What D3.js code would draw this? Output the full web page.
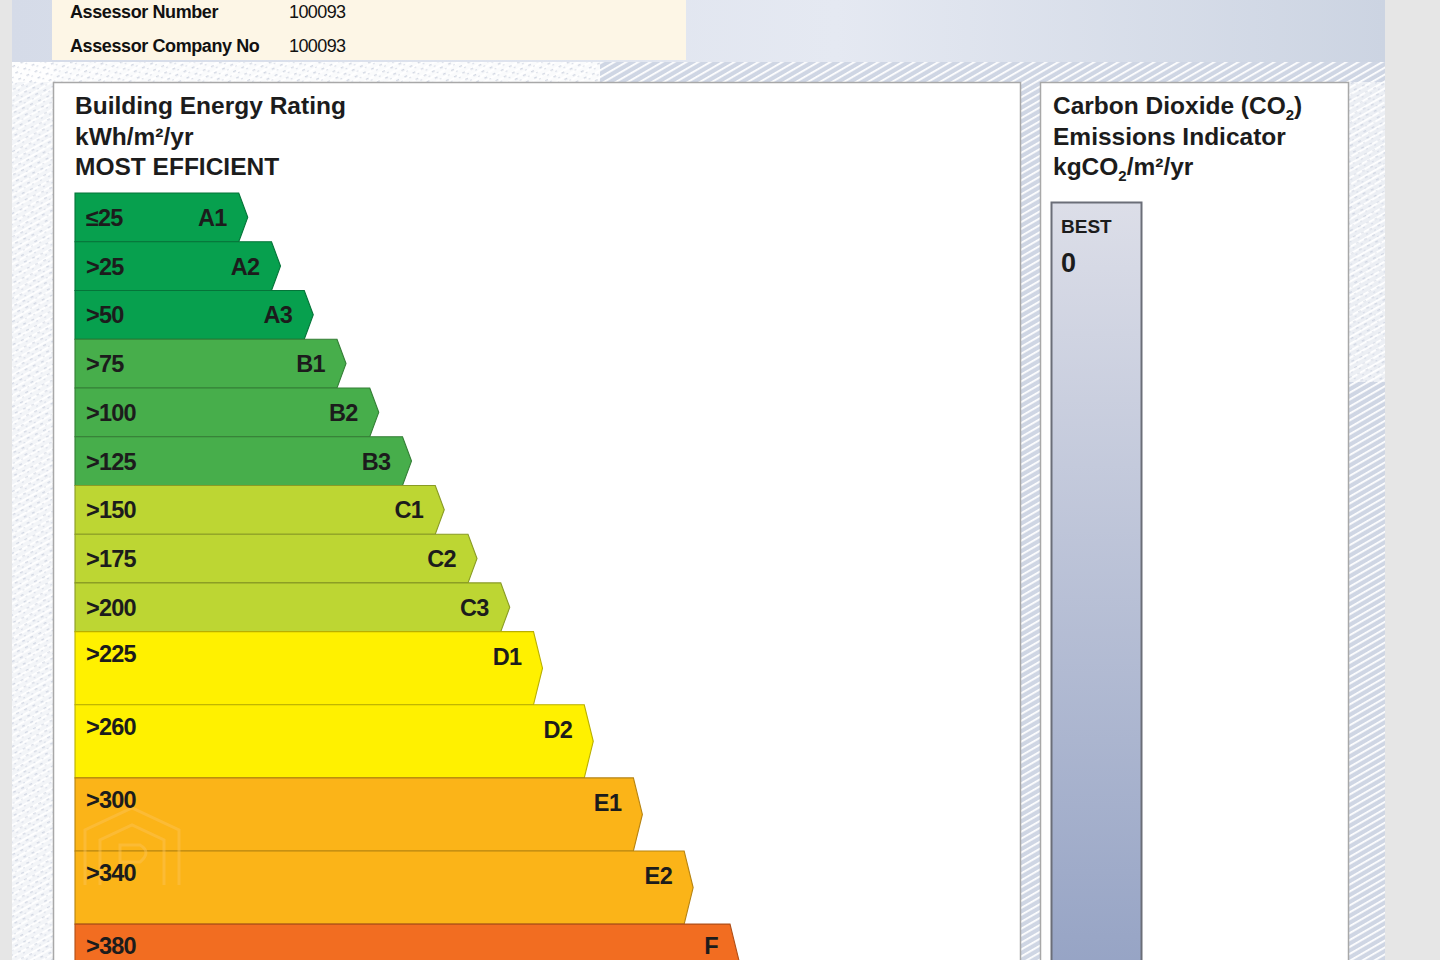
<!DOCTYPE html>
<html>
<head>
<meta charset="utf-8">
<script src="https://cdn.jsdelivr.net/npm/d3@7/dist/d3.min.js"></script>
<style>
  html, body { margin: 0; padding: 0; background: #e6e6e6; }
  svg { display: block; }
  text { font-family: "Liberation Sans", Arial, Helvetica, sans-serif; }
</style>
</head>
<body>
<svg id="chart" width="1440" height="960"></svg>
<script>
// ---------------- DATA ----------------
const bandNames = ["A1","A2","A3","B1","B2","B3","C1","C2","C3","D1","D2","E1","E2","F"];
const bandThresholds = ["\u226425",">25",">50",">75",">100",">125",">150",">175",">200",">225",">260",">300",">340",">380"];
const bandLengths = [5,6,7,8,9,10,11,12,13,14,15.55,17.05,18.6,20];
const bandSpans = [2,2,2,2,2,2,2,2,2,3,3,3,3,3];
const bandColors = ["#07a04e","#07a04e","#07a04e","#47ae4b","#47ae4b","#47ae4b","#bdd633","#bdd633","#bdd633","#fff100","#fff100","#fbb418","#fbb418","#f26d21"];
const assessorLabels = ["Assessor Number","Assessor Company No"];
const assessorValues = ["100093","100093"];
const berTitle = ["Building Energy Rating","kWh/m\u00b2/yr","MOST EFFICIENT"];
const co2Best = "BEST";
const co2Value = "0";

// ---------------- SETUP ----------------
const svg = d3.select("#chart");
const defs = svg.append("defs");

const hg = defs.append("linearGradient").attr("id","hdr").attr("x1","0").attr("x2","1").attr("y1","0").attr("y2","0");
hg.append("stop").attr("offset","0").attr("stop-color","#d5dbe8");
hg.append("stop").attr("offset","0.6").attr("stop-color","#e5e9f2");
hg.append("stop").attr("offset","1").attr("stop-color","#ccd4e2");

const pat = defs.append("pattern").attr("id","hatch").attr("patternUnits","userSpaceOnUse")
  .attr("width",6).attr("height",6).attr("patternTransform","rotate(60)");
pat.append("rect").attr("width",6).attr("height",6).attr("fill","#cfd6e4");
pat.append("line").attr("x1",0).attr("y1",0).attr("x2",0).attr("y2",6)
  .attr("stroke","#ffffff").attr("stroke-width",3.6);

const pat2 = defs.append("pattern").attr("id","speck").attr("patternUnits","userSpaceOnUse")
  .attr("width",9).attr("height",7).attr("patternTransform","rotate(-25)");
pat2.append("rect").attr("width",9).attr("height",7).attr("fill","#ffffff");
pat2.append("rect").attr("x",1).attr("y",2).attr("width",3).attr("height",1.4).attr("fill","#d3d8e3");
pat2.append("rect").attr("x",5).attr("y",5).attr("width",2).attr("height",1.2).attr("fill","#dde1ea");

const bg = defs.append("linearGradient").attr("id","bestg").attr("x1","0").attr("x2","0").attr("y1","0").attr("y2","1");
bg.append("stop").attr("offset","0").attr("stop-color","#dcdee8");
bg.append("stop").attr("offset","1").attr("stop-color","#93a1c3");

// ---------------- BACKGROUND ----------------
svg.append("rect").attr("x",0).attr("y",0).attr("width",1440).attr("height",960).attr("fill","#e6e6e6");
svg.append("rect").attr("x",12).attr("y",0).attr("width",1373).attr("height",62).attr("fill","url(#hdr)");
svg.append("rect").attr("x",12).attr("y",62).attr("width",1373).attr("height",898).attr("fill","url(#hatch)");
svg.append("rect").attr("x",12).attr("y",62).attr("width",588).attr("height",20).attr("fill","url(#speck)").attr("opacity",0.9);
svg.append("rect").attr("x",12).attr("y",62).attr("width",41).attr("height",898).attr("fill","url(#speck)").attr("opacity",0.75);
svg.append("rect").attr("x",1349).attr("y",82).attr("width",36).attr("height",300).attr("fill","url(#speck)").attr("opacity",0.6);

// cream assessor box
svg.append("rect").attr("x",52).attr("y",0).attr("width",634).attr("height",60).attr("fill","#fdf6e6");
svg.selectAll("text.al").data(assessorLabels).join("text").attr("class","al")
  .attr("x",70).attr("y",(d,i)=>18+i*34).attr("font-size",18).attr("font-weight","bold")
  .attr("letter-spacing",-0.4).attr("fill","#111").text(d=>d);
svg.selectAll("text.av").data(assessorValues).join("text").attr("class","av")
  .attr("x",289).attr("y",(d,i)=>18+i*34).attr("font-size",18)
  .attr("letter-spacing",-0.6).attr("fill","#111").text(d=>d);

// ---------------- PANELS ----------------
svg.append("rect").attr("x",53.5).attr("y",82.5).attr("width",967).attr("height",900)
  .attr("fill","#ffffff").attr("stroke","#a8a8a8").attr("stroke-width",1.5);
svg.append("rect").attr("x",1040.5).attr("y",82.5).attr("width",308).attr("height",900)
  .attr("fill","#ffffff").attr("stroke","#a8a8a8").attr("stroke-width",1.5);

svg.selectAll("text.bt").data(berTitle).join("text").attr("class","bt")
  .attr("x",75).attr("y",(d,i)=>114+i*30.5).attr("font-size",24.5).attr("font-weight","bold")
  .attr("fill","#1c1c1c").text(d=>d);

const rt = svg.append("g").attr("font-size",24.5).attr("font-weight","bold").attr("fill","#1c1c1c");
const t1 = rt.append("text").attr("x",1053).attr("y",114);
t1.append("tspan").text("Carbon Dioxide (CO");
t1.append("tspan").attr("font-size",15).attr("dy",6).text("2");
t1.append("tspan").attr("dy",-6).text(")");
rt.append("text").attr("x",1053).attr("y",144.5).text("Emissions Indicator");
const t3 = rt.append("text").attr("x",1053).attr("y",175);
t3.append("tspan").text("kgCO");
t3.append("tspan").attr("font-size",15).attr("dy",6).text("2");
t3.append("tspan").attr("dy",-6).text("/m\u00b2/yr");

svg.append("rect").attr("x",1051.5).attr("y",202.5).attr("width",90).attr("height",800)
  .attr("fill","url(#bestg)").attr("stroke","#6b6e78").attr("stroke-width",2);
svg.append("text").attr("x",1061).attr("y",233).attr("font-size",19).attr("font-weight","bold")
  .attr("fill","#1c1c1c").text(co2Best);
svg.append("text").attr("x",1061).attr("y",272).attr("font-size",27).attr("font-weight","bold")
  .attr("fill","#1c1c1c").text(co2Value);

// ---------------- BARS ----------------
const totalSpan = d3.sum(bandSpans);
const x = d3.scaleLinear().domain([0, 20]).range([75, 730]);
const y = d3.scaleLinear().domain([0, totalSpan]).range([193, 193 + totalSpan * 24.37]);
const cum = d3.cumsum(bandSpans);
const rows = bandNames.map((n,i)=>({
  name:n, thr:bandThresholds[i], len:bandLengths[i], color:bandColors[i], span:bandSpans[i],
  y0: y(cum[i]-bandSpans[i]), y1: y(cum[i])
}));
const tip = 9;
const g = svg.append("g");
const row = g.selectAll("g.row").data(rows).join("g").attr("class","row");
row.append("path")
  .attr("d", d => {
    const x0 = x(0), xe = x(d.len), m = (d.y0 + d.y1) / 2;
    return `M${x0},${d.y0}L${xe},${d.y0}L${xe+tip*0.35},${d.y0+(m-d.y0)*0.35}L${xe+tip},${m}L${xe+tip*0.35},${d.y1-(d.y1-m)*0.35}L${xe},${d.y1}L${x0},${d.y1}Z`;
  })
  .attr("fill", d=>d.color)
  .attr("stroke", d=>d3.color(d.color).darker(0.9))
  .attr("stroke-width",1.1);

// faint watermark (under the labels)
const wm = svg.append("g").attr("fill","none").attr("stroke","#fcc45a").attr("stroke-width",3).attr("opacity",0.45);
wm.append("path").attr("d","M85,885 L85,830 L132,808 L179,830 L179,885");
wm.append("path").attr("d","M100,885 L100,840 L132,825 L164,840 L164,885");
wm.append("path").attr("d","M120,875 L120,845 L140,845 Q152,852 140,862 L120,862");

const lab = svg.append("g");
const lrow = lab.selectAll("g").data(rows).join("g");
lrow.append("text")
  .attr("x", 86).attr("y", d=>d.y0 + (d.span === 3 ? 30 : 33))
  .attr("font-size",23.5).attr("font-weight","bold").attr("letter-spacing",-0.8)
  .attr("fill","#1c1c1c").text(d=>d.thr);
lrow.append("text")
  .attr("x", d=>x(d.len)-12).attr("y", d=>d.y0 + (d.span === 3 ? (d.name === "F" ? 30 : 33) : 33))
  .attr("text-anchor","end")
  .attr("font-size",23.5).attr("font-weight","bold").attr("letter-spacing",-0.6)
  .attr("fill","#1c1c1c").text(d=>d.name);
</script>
</body>
</html>
